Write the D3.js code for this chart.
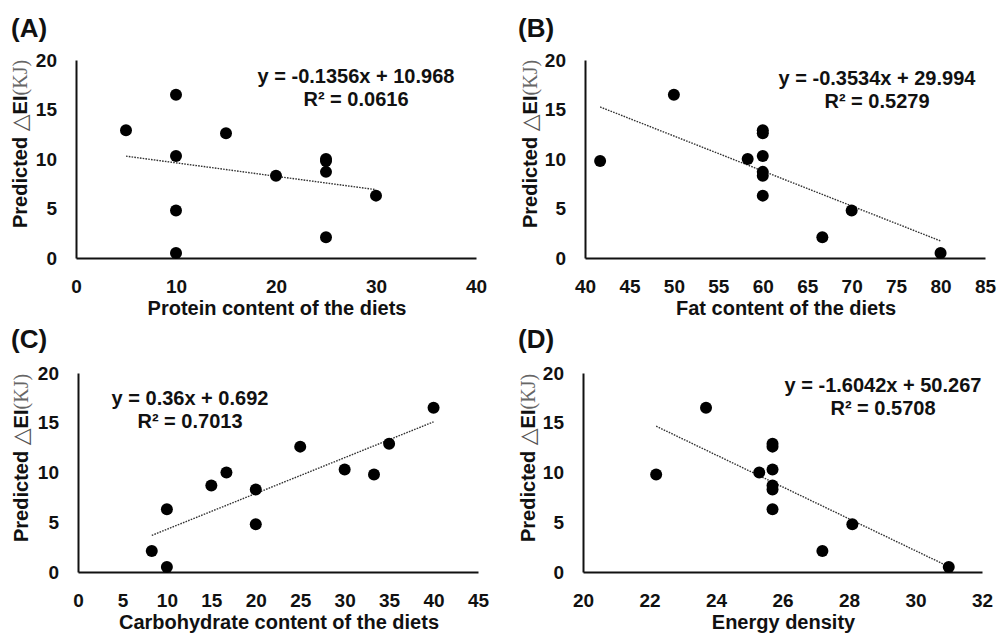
<!DOCTYPE html>
<html>
<head>
<meta charset="utf-8">
<script src="https://cdn.jsdelivr.net/npm/d3@7"></script>
<style>
  body { margin: 0; background: #fff; }
  svg { display: block; }
  text { font-family: "Liberation Sans", Arial, sans-serif; font-weight: bold; fill: #111; }
</style>
</head>
<body>
<svg id="chart" width="997" height="634"></svg>
<script>
// predicted change in energy intake, one value per diet
var predicted = [16.5, 12.9, 12.6, 10.3, 10.0, 9.8, 8.7, 8.3, 6.3, 4.8, 2.1, 0.5];
// diet composition for the same diets
var protein = [10, 5, 15, 10, 25, 25, 25, 20, 30, 10, 25, 10];
var fat = [50, 60, 60, 60, 58.3, 41.7, 60, 60, 60, 70, 66.7, 80];
var carb = [40, 35, 25, 30, 16.7, 33.3, 15, 20, 10, 20, 8.3, 10];
var energy = [23.7, 25.7, 25.7, 25.7, 25.3, 22.2, 25.7, 25.7, 25.7, 28.1, 27.2, 31.0];

// fitted trend lines (slope, intercept, R²)
var slopes = [-0.1356, -0.3534, 0.36, -1.6042];
var intercepts = [10.968, 29.994, 0.692, 50.267];
var rSquared = ["0.0616", "0.5279", "0.7013", "0.5708"];
var equations = ["y = -0.1356x + 10.968", "y = -0.3534x + 29.994", "y = 0.36x + 0.692", "y = -1.6042x + 50.267"];

var panelLabels = ["(A)", "(B)", "(C)", "(D)"];
var xTitles = ["Protein content of the diets", "Fat content of the diets", "Carbohydrate content of the diets", "Energy density"];
var xDomains = [[0, 40], [40, 85], [0, 45], [20, 32]];
var xTickStep = [10, 5, 5, 2];
var yTicks = [0, 5, 10, 15, 20];
var xSeries = [protein, fat, carb, energy];

// layout of the four panels
var panels = [
    { x0: 76, x1: 476, top: 60, bottom: 258, labelX: 11, labelY: 37, eqX: 356, eqY: 83, titleX: 27 },
    { x0: 585, x1: 985, top: 60, bottom: 258, labelX: 518, labelY: 37, eqX: 877, eqY: 85, titleX: 537 },
    { x0: 78, x1: 478, top: 373, bottom: 572, labelX: 11, labelY: 348, eqX: 190, eqY: 405, titleX: 28 },
    { x0: 583, x1: 982, top: 373, bottom: 572, labelX: 518, labelY: 348, eqX: 883, eqY: 392, titleX: 535 }
];

var svg = d3.select("#chart");

panels.forEach(function (p, k) {
    var xs = xSeries[k];
    var dom = xDomains[k];

    var x = d3.scaleLinear().domain(dom).range([p.x0, p.x1]);
    var y = d3.scaleLinear().domain([0, 20]).range([p.bottom, p.top]);

    var g = svg.append("g");

    // panel letter
    g.append("text")
        .attr("x", p.labelX)
        .attr("y", p.labelY)
        .style("font-size", "26px")
        .text(panelLabels[k]);

    var xTicks = d3.range(dom[0], dom[1] + 0.001, xTickStep[k]);

    var xAxis = g.append("g")
        .attr("transform", "translate(0," + p.bottom + ")")
        .call(d3.axisBottom(x).tickValues(xTicks).tickSize(0).tickPadding(22));
    var yAxis = g.append("g")
        .attr("transform", "translate(" + p.x0 + ",0)")
        .call(d3.axisLeft(y).tickValues(yTicks).tickSize(0).tickPadding(19));

    [xAxis, yAxis].forEach(function (a) {
        a.select(".domain").attr("stroke", "#111").attr("stroke-width", 2);
        a.selectAll("text")
            .attr("fill", "#111")
            .style("font-family", '"Liberation Sans", Arial, sans-serif')
            .style("font-weight", "bold")
            .style("font-size", "19px");
    });

    // x title
    g.append("text")
        .attr("x", (p.x0 + p.x1) / 2 + 1)
        .attr("y", p.bottom + 57)
        .attr("text-anchor", "middle")
        .style("font-size", "20px")
        .text(xTitles[k]);

    // y title
    var yt = g.append("text")
        .attr("transform", "translate(" + p.titleX + "," + (p.bottom - 30) + ") rotate(-90)")
        .attr("text-anchor", "start")
        .style("font-size", "20px");
    yt.append("tspan").text("Predicted ");
    yt.append("tspan")
        .style("font-family", '"DejaVu Sans", sans-serif')
        .style("font-weight", "normal")
        .style("font-size", "22px")
        .attr("fill", "#555")
        .text("\u25B3");
    yt.append("tspan").text("EI");
    yt.append("tspan")
        .style("font-family", '"Liberation Serif", "DejaVu Serif", serif')
        .style("font-weight", "normal")
        .attr("fill", "#666")
        .text("(KJ)");

    // trend line over the range of the data
    var ext = d3.extent(xs);
    var line = d3.line()
        .x(function (d) { return x(d); })
        .y(function (d) { return y(slopes[k] * d + intercepts[k]); });
    g.append("path")
        .datum(ext)
        .attr("d", line)
        .attr("fill", "none")
        .attr("stroke", "#333")
        .attr("stroke-width", 1.4)
        .attr("stroke-dasharray", "1.6,1.2");

    // points
    g.selectAll("circle")
        .data(xs)
        .enter()
        .append("circle")
        .attr("cx", function (d) { return x(d); })
        .attr("cy", function (d, i) { return y(predicted[i]); })
        .attr("r", 6)
        .attr("fill", "#000");

    // equation
    g.append("text")
        .attr("x", p.eqX)
        .attr("y", p.eqY)
        .attr("text-anchor", "middle")
        .style("font-size", "20px")
        .text(equations[k]);
    g.append("text")
        .attr("x", p.eqX)
        .attr("y", p.eqY + 23)
        .attr("text-anchor", "middle")
        .style("font-size", "20px")
        .text("R\u00B2 = " + rSquared[k]);
});
</script>
</body>
</html>
